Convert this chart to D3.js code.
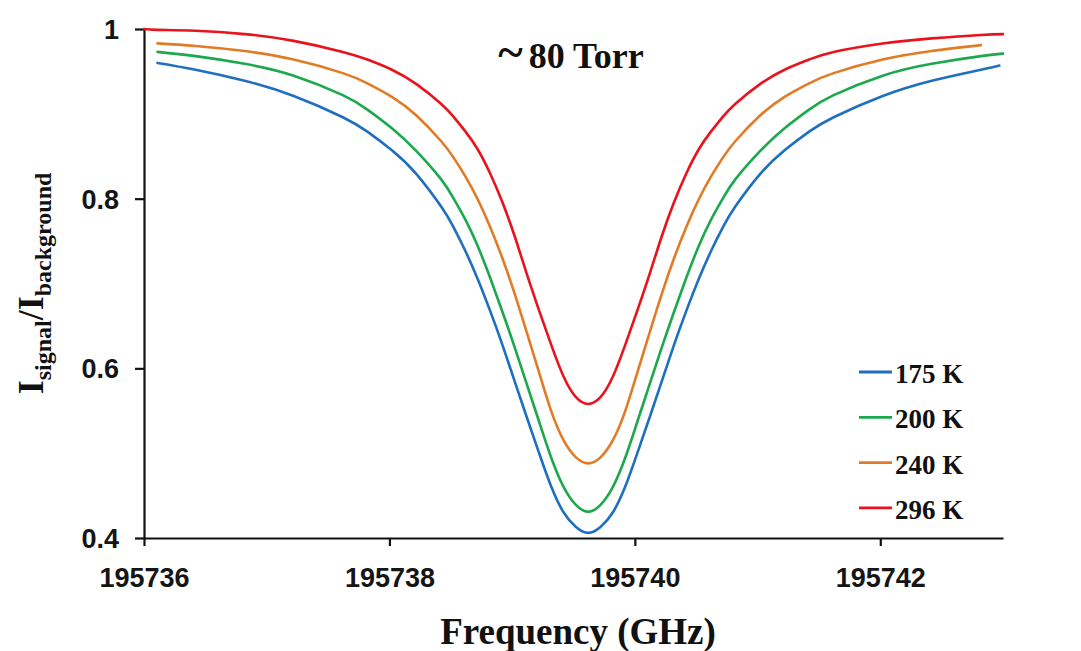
<!DOCTYPE html>
<html>
<head>
<meta charset="utf-8">
<script src="https://cdn.jsdelivr.net/npm/d3@7"></script>
<style>
  html, body { margin: 0; padding: 0; background: #ffffff; }
  svg { display: block; }
</style>
</head>
<body>
<svg id="chart" width="1081" height="651"></svg>
<script>
// Transmitted-intensity ratio across the absorption line at ~80 Torr,
// one trace per gas temperature, sampled on a shared frequency grid (GHz).
// null = the trace has no sample at that frequency.
const frequencyGHz = [
  195736.00, 195736.11, 195736.42, 195736.82, 195737.22, 195737.62, 195737.82, 195738.02,
  195738.22, 195738.42, 195738.52, 195738.62, 195738.72, 195738.82, 195738.92, 195739.02,
  195739.12, 195739.22, 195739.32, 195739.42, 195739.52, 195739.62, 195739.72, 195739.82,
  195739.92, 195740.02, 195740.12, 195740.22, 195740.32, 195740.42, 195740.52, 195740.62,
  195740.72, 195740.82, 195741.02, 195741.22, 195741.42, 195741.62, 195742.02, 195742.42,
  195742.82, 195742.97, 195743.00
];
const ratio175K = [
  null, 0.960, 0.952, 0.939, 0.921, 0.896, 0.879, 0.857,
  0.829, 0.791, 0.767, 0.738, 0.705, 0.668, 0.628, 0.585,
  0.542, 0.500, 0.460, 0.430, 0.413, 0.406, 0.413, 0.430,
  0.460, 0.500, 0.542, 0.585, 0.628, 0.668, 0.705, 0.738,
  0.767, 0.791, 0.829, 0.857, 0.879, 0.896, 0.921, 0.939,
  0.952, 0.957, null
];
const ratio200K = [
  null, 0.973, 0.968, 0.959, 0.945, 0.922, 0.905, 0.883,
  0.856, 0.823, 0.801, 0.775, 0.744, 0.707, 0.667, 0.625,
  0.581, 0.537, 0.494, 0.460, 0.439, 0.431, 0.439, 0.460,
  0.494, 0.537, 0.581, 0.625, 0.667, 0.707, 0.744, 0.775,
  0.801, 0.823, 0.856, 0.883, 0.905, 0.922, 0.945, 0.959,
  0.968, null, 0.971
];
const ratio240K = [
  null, 0.983, 0.980, 0.974, 0.964, 0.948, 0.936, 0.920,
  0.898, 0.868, 0.849, 0.826, 0.799, 0.767, 0.730, 0.688,
  0.642, 0.595, 0.549, 0.515, 0.495, 0.488, 0.495, 0.515,
  0.549, 0.595, 0.642, 0.688, 0.730, 0.767, 0.799, 0.826,
  0.849, 0.868, 0.898, 0.920, 0.936, 0.948, 0.964, 0.974,
  0.981, null, null
];
const ratio296K = [
  1.000, 0.999, 0.998, 0.994, 0.986, 0.973, 0.964, 0.952,
  0.935, 0.912, 0.897, 0.879, 0.858, 0.830, 0.796, 0.756,
  0.711, 0.668, 0.627, 0.590, 0.566, 0.558, 0.566, 0.590,
  0.627, 0.668, 0.711, 0.756, 0.796, 0.830, 0.858, 0.879,
  0.897, 0.912, 0.935, 0.952, 0.964, 0.973, 0.983, 0.989,
  0.993, null, 0.994
];

const legendLabels = ["175 K", "200 K", "240 K", "296 K"];
const seriesColors = ["#1f6fc1", "#1ca84c", "#e27b26", "#e8131d"];
const allRatios = [ratio175K, ratio200K, ratio240K, ratio296K];

const xTicks = [195736, 195738, 195740, 195742];
const xTickLabels = ["195736", "195738", "195740", "195742"];
const yTicks = [0.4, 0.6, 0.8, 1];
const yTickLabels = ["0.4", "0.6", "0.8", "1"];
const xDomain = [195736, 195743];
const yDomain = [0.4, 1];

const svg = d3.select("#chart");
const plot = { left: 144, right: 1003, top: 29, bottom: 538 };

const x = d3.scaleLinear().domain(xDomain).range([plot.left, plot.right]);
const y = d3.scaleLinear().domain(yDomain).range([plot.bottom, plot.top]);

const sansBold = "'Liberation Sans', Arial, Helvetica, sans-serif";
const serif = "'Liberation Serif', 'Times New Roman', Times, serif";

// Axes
const xAxis = svg.append("g")
  .attr("transform", `translate(0,${plot.bottom})`)
  .call(d3.axisBottom(x).tickValues(xTicks)
    .tickFormat((d, i) => xTickLabels[i]).tickSize(8).tickSizeOuter(0).tickPadding(22));

const yAxis = svg.append("g")
  .attr("transform", `translate(${plot.left},0)`)
  .call(d3.axisLeft(y).tickValues(yTicks)
    .tickFormat((d, i) => yTickLabels[i]).tickSize(9).tickSizeOuter(0).tickPadding(16));

[xAxis, yAxis].forEach(g => {
  g.select(".domain").attr("stroke", "#111").attr("stroke-width", 2.2);
  g.selectAll(".tick line").attr("stroke", "#111").attr("stroke-width", 2.2);
  g.selectAll(".tick text")
    .attr("fill", "#151515")
    .attr("font-family", sansBold)
    .attr("font-weight", "bold")
    .attr("font-size", 27);
});
xAxis.selectAll(".tick text").attr("dy", "0.71em");
yAxis.selectAll(".tick text").attr("dy", "0.35em");

// Traces
const line = d3.line()
  .x(d => x(d[0]))
  .y(d => y(d[1]))
  .curve(d3.curveNatural);

const traces = allRatios.map(vals =>
  frequencyGHz.map((f, i) => [f, vals[i]]).filter(p => p[1] != null));

svg.append("g").selectAll("path")
  .data(traces)
  .join("path")
  .attr("d", line)
  .attr("fill", "none")
  .attr("stroke", (d, i) => seriesColors[i])
  .attr("stroke-width", 2.6)
  .attr("stroke-linecap", "round");

// Legend
const legend = svg.append("g").attr("transform", "translate(859,372)");
legendLabels.forEach((lab, i) => {
  const row = legend.append("g").attr("transform", `translate(0,${i * 45.3})`);
  row.append("line")
    .attr("x1", 0).attr("x2", 33).attr("y1", 0).attr("y2", 0)
    .attr("stroke", seriesColors[i]).attr("stroke-width", 2.8);
  row.append("text")
    .attr("x", 36).attr("y", 11)
    .attr("font-family", serif).attr("font-weight", "bold")
    .attr("font-size", 27).attr("fill", "#111")
    .text(lab);
});

// Pressure annotation
const note = svg.append("text")
  .attr("x", 571).attr("y", 68)
  .attr("text-anchor", "middle")
  .attr("font-family", serif).attr("font-weight", "bold")
  .attr("fill", "#111");
note.append("tspan").attr("font-size", 47).attr("dy", 0).text("~");
note.append("tspan").attr("font-size", 36).attr("dx", 6).text("80 Torr");

// Axis titles
svg.append("text")
  .attr("x", 578).attr("y", 644)
  .attr("text-anchor", "middle")
  .attr("font-family", serif).attr("font-weight", "bold")
  .attr("font-size", 37).attr("fill", "#111")
  .text("Frequency (GHz)");

const yTitle = svg.append("text")
  .attr("transform", `translate(43,${(plot.top + plot.bottom) / 2}) rotate(-90)`)
  .attr("text-anchor", "middle")
  .attr("font-family", serif).attr("font-weight", "bold")
  .attr("fill", "#111");
yTitle.append("tspan").attr("font-size", 36).text("I");
yTitle.append("tspan").attr("font-size", 24).attr("dy", 8).text("signal");
yTitle.append("tspan").attr("font-size", 36).attr("dy", -8).text("/I");
yTitle.append("tspan").attr("font-size", 24).attr("dy", 8).text("background");
</script>
</body>
</html>
